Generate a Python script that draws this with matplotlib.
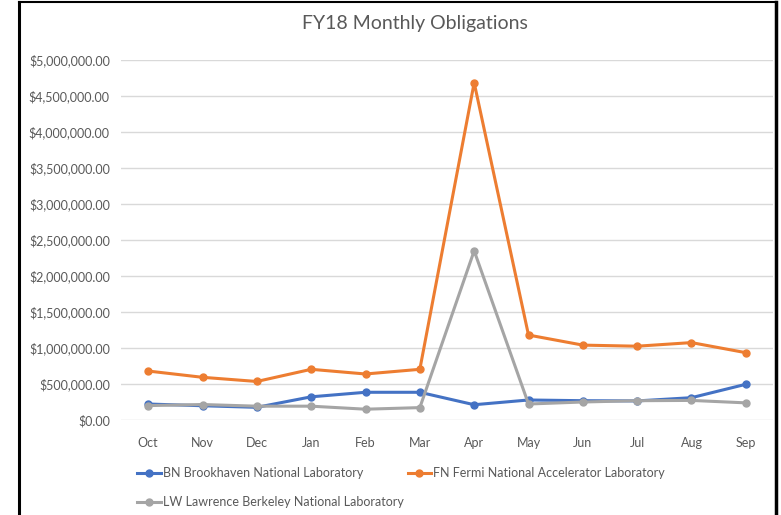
import matplotlib.pyplot as plt
from matplotlib.ticker import FuncFormatter

plt.rcParams['font.family'] = ['Lato', 'DejaVu Sans']

# --- Datos ---
meses = ['Oct', 'Nov', 'Dec', 'Jan', 'Feb', 'Mar', 'Apr', 'May', 'Jun', 'Jul', 'Aug', 'Sep']
brookhaven = [222000, 198000, 176000, 322000, 385000, 385000, 212000, 278000, 268000, 265000, 310000, 496000]
fermi = [680000, 593000, 535000, 704000, 639000, 704000, 4685000, 1180000, 1040000, 1025000, 1075000, 935000]
berkeley = [200000, 215000, 192000, 192000, 150000, 172000, 2350000, 222000, 250000, 268000, 272000, 238000]

series = [
    ('BN Brookhaven National Laboratory', brookhaven, '#4472C4'),
    ('FN Fermi National Accelerator Laboratory', fermi, '#ED7D31'),
    ('LW Lawrence Berkeley National Laboratory', berkeley, '#A5A5A5'),
]

fig = plt.figure(figsize=(7.81, 5.15), dpi=100)
ax = fig.add_axes([121 / 781, 1 - 420 / 515, 652 / 781, 360 / 515])

x = range(len(meses))
lineas = []
for i, (nombre, valores, color) in enumerate(series):
    l, = ax.plot(x, valores, color=color, lw=2.2, marker='o', markersize=5,
                 label=nombre, zorder=3 + i)
    lineas.append(l)

ax.set_xlim(-0.5, len(meses) - 0.5)
ax.set_ylim(0, 5000000)
ax.set_yticks(range(0, 5000001, 500000))
ax.yaxis.set_major_formatter(FuncFormatter(lambda v, p: '${:,.2f}'.format(v)))
ax.set_xticks(list(x))
ax.set_xticklabels(meses)
ax.tick_params(length=0, labelsize=9, colors='#595959', pad=8)
ax.tick_params(axis='x', pad=12)
ax.grid(axis='y', color='#D9D9D9', lw=1)
ax.set_axisbelow(True)
for s in ax.spines.values():
    s.set_visible(False)

fig.text(415 / 781, 1 - 24 / 515, 'FY18 Monthly Obligations', ha='center', va='center',
         fontsize=14, color='#595959')

# orden por filas: BN, FN / LW
orden = [lineas[0], lineas[2], lineas[1]]
leg = fig.legend(orden, [l.get_label() for l in orden],
                 loc='upper left', bbox_to_anchor=(126 / 781, 1 - 456 / 515), ncol=2,
                 frameon=False, fontsize=9, handlelength=1.9, handletextpad=0.15,
                 columnspacing=0.3, labelspacing=1.35)
for t in leg.get_texts():
    t.set_color('#595959')

# marco negro
fig.add_artist(plt.Line2D([19 / 781, 19 / 781], [0, 1 - 2 / 515], color='black', lw=2.2))
fig.add_artist(plt.Line2D([19 / 781, 776 / 781], [1 - 2 / 515, 1 - 2 / 515], color='black', lw=1.5))
fig.add_artist(plt.Line2D([776 / 781, 776 / 781], [0, 1 - 2 / 515], color='black', lw=2.5))

fig.savefig('out.png', dpi=100)
